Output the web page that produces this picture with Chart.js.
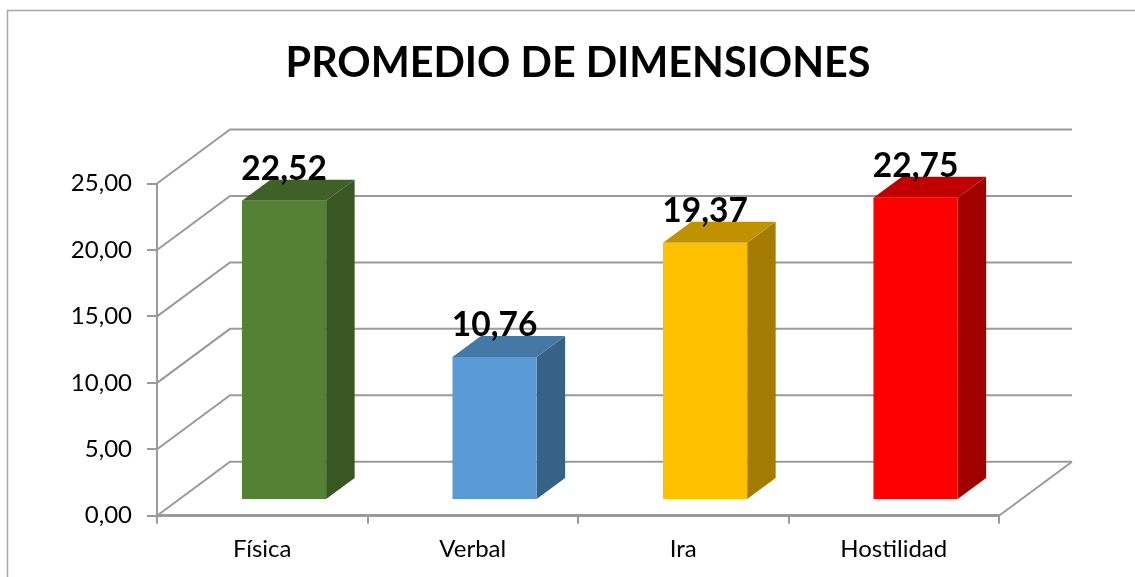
<!DOCTYPE html>
<html lang="es">
<head>
<meta charset="utf-8">
<style>html,body{margin:0;padding:0;background:#fff}canvas{display:block}</style>
<script src="https://cdn.jsdelivr.net/npm/chart.js@4"></script>
</head>
<body>
<canvas id="c" width="1135" height="577"></canvas>
<script>
const chartTitle = "PROMEDIO DE DIMENSIONES";
const categories = ["Física", "Verbal", "Ira", "Hostilidad"];
const values = [22.52, 10.76, 19.37, 22.75];
const frontColors = ["#548235", "#5B9BD5", "#FFC000", "#FF0000"];
const sideColors = ["#385723", "#376288", "#A37C00", "#A00000"];
const topColors = ["#3F6027", "#4678A6", "#C09200", "#C00000"];

const LINE = "#9A9A9A";
const FONT = "Lato, Carlito, sans-serif";
const WALL = {dx: 73, dy: -54};
const BAR_SHIFT = {dx: 21.8, dy: -15.7};
const BAR_DEPTH = {dx: 28.5, dy: -21};
const fmt = v => Number(v).toFixed(2).replace(".", ",");

const frame3d = {
  id: "frame3d",
  beforeDraw(chart) {
    const c = chart.ctx;
    c.save();
    c.strokeStyle = "#A6A6A6"; c.lineWidth = 1.5;
    c.beginPath(); c.moveTo(7.5, 577); c.lineTo(7.5, 10.5); c.lineTo(1135, 10.5); c.stroke();
    c.restore();
  },
  beforeDatasetsDraw(chart) {
    const c = chart.ctx, y = chart.scales.y, a = chart.chartArea;
    c.save();
    c.strokeStyle = LINE; c.lineWidth = 2;
    y.ticks.forEach(t => {
      const py = y.getPixelForValue(t.value);
      c.beginPath();
      c.moveTo(a.left, py);
      c.lineTo(a.left + WALL.dx, py + WALL.dy);
      c.lineTo(a.right + WALL.dx, py + WALL.dy);
      c.stroke();
    });
    c.beginPath();
    c.moveTo(a.right, a.bottom);
    c.lineTo(a.right + WALL.dx, a.bottom + WALL.dy);
    c.stroke();
    c.restore();
  },
  beforeDatasetDraw(chart, args) {
    const c = chart.ctx;
    c.save();
    c.translate(BAR_SHIFT.dx, BAR_SHIFT.dy);
    args.meta.data.forEach((b, i) => {
      const l = b.x - b.width / 2, r = b.x + b.width / 2, t = b.y, bt = b.base;
      const poly = (pts, col) => {
        c.fillStyle = col; c.beginPath();
        pts.forEach((p, k) => k ? c.lineTo(p[0], p[1]) : c.moveTo(p[0], p[1]));
        c.closePath(); c.fill();
      };
      poly([[r, t], [r + BAR_DEPTH.dx, t + BAR_DEPTH.dy], [r + BAR_DEPTH.dx, bt + BAR_DEPTH.dy], [r, bt]], sideColors[i]);
      poly([[l, t], [l + BAR_DEPTH.dx, t + BAR_DEPTH.dy], [r + BAR_DEPTH.dx, t + BAR_DEPTH.dy], [r, t]], topColors[i]);
    });
  },
  afterDatasetDraw(chart) { chart.ctx.restore(); },
  afterDatasetsDraw(chart, args) {
    const c = chart.ctx, meta = chart.getDatasetMeta(0);
    c.save();
    c.fillStyle = "#000";
    c.font = "bold 33.5px " + FONT;
    c.textAlign = "center"; c.textBaseline = "alphabetic";
    meta.data.forEach((b, i) => {
      c.fillText(fmt(values[i]), b.x + BAR_SHIFT.dx, b.y + BAR_SHIFT.dy - 21);
    });
    c.restore();
  }
};

new Chart(document.getElementById("c"), {
  type: "bar",
  data: {
    labels: categories,
    datasets: [{
      data: values,
      backgroundColor: frontColors,
      barPercentage: 0.4,
      categoryPercentage: 1
    }]
  },
  plugins: [frame3d],
  options: {
    responsive: false,
    animation: false,
    layout: {padding: {left: 0, right: 136, top: 0, bottom: 0}},
    plugins: {
      legend: {display: false},
      tooltip: {enabled: false},
      title: {
        display: true,
        text: chartTitle,
        fullSize: false,
        color: "#000",
        font: {family: FONT, size: 41.3, weight: "bold", lineHeight: 1.2},
        padding: {top: 39, bottom: 95}
      }
    },
    scales: {
      x: {
        afterFit(s) { s.height = 61.3; },
        grid: {drawOnChartArea: false, drawTicks: true, tickLength: 8, color: LINE, lineWidth: 2, offset: true},
        border: {color: LINE, width: 3},
        ticks: {color: "#000", font: {family: FONT, size: 24}, padding: 11, maxRotation: 0}
      },
      y: {
        min: 0, max: 25,
        afterFit(s) { s.width = 157; },
        grid: {drawOnChartArea: false, drawTicks: true, tickLength: 10, color: LINE, lineWidth: 2},
        border: {color: LINE, width: 2},
        ticks: {stepSize: 5, color: "#000", font: {family: FONT, size: 24}, padding: 15, callback: v => fmt(v)}
      }
    }
  }
});
</script>
</body>
</html>
